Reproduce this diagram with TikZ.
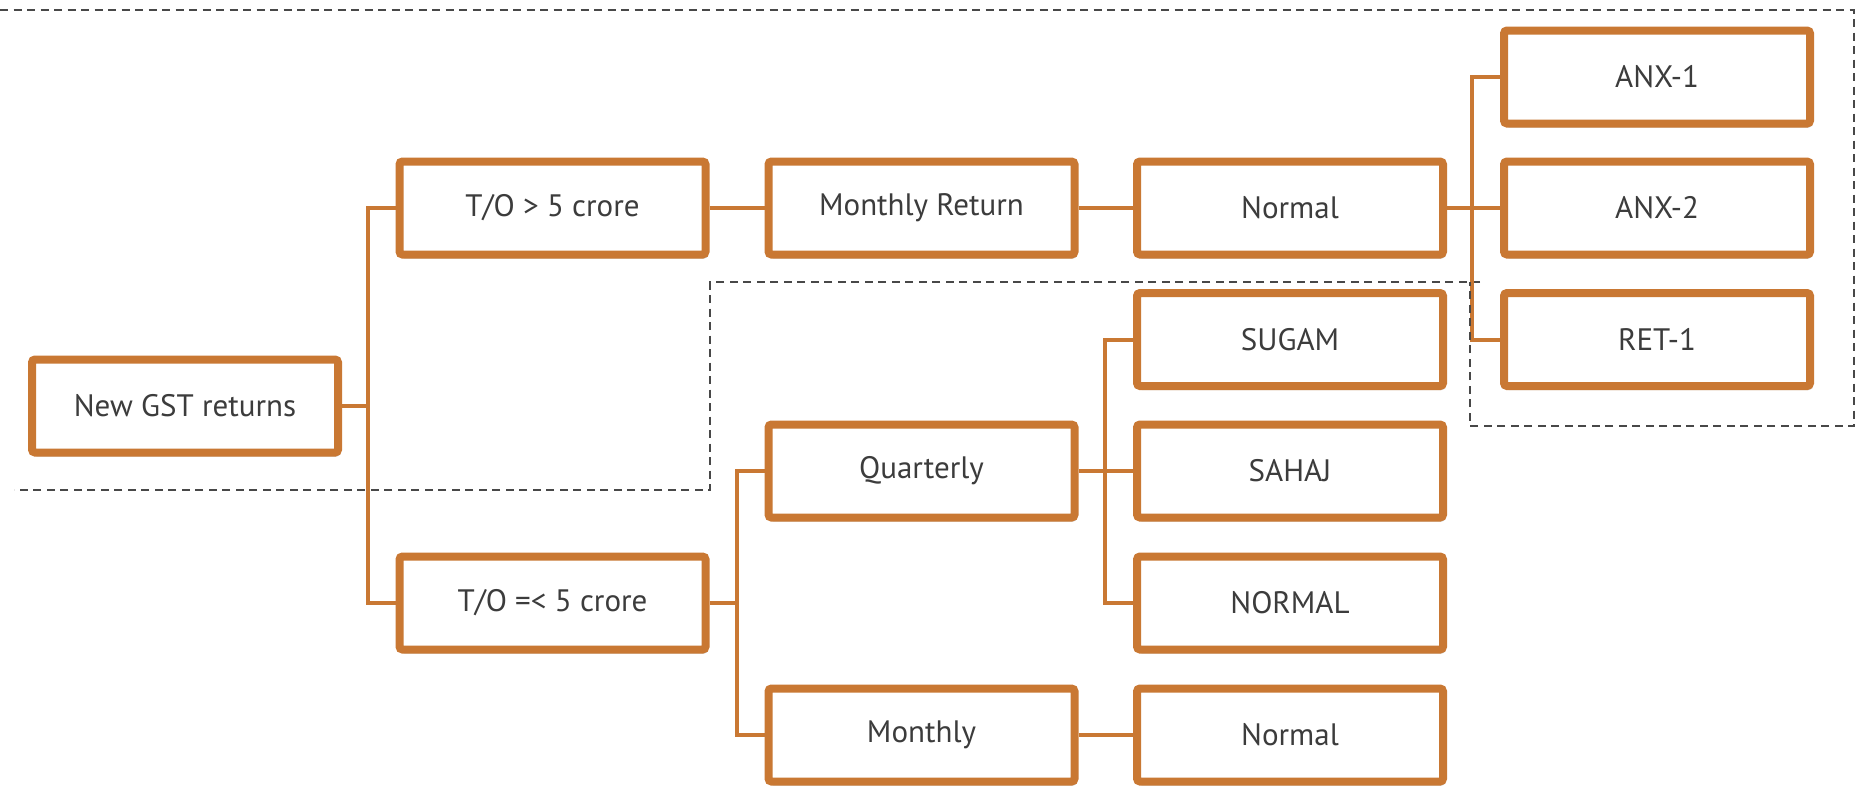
\documentclass[tikz,border=0pt]{standalone}
\usepackage{fontspec}
\setmainfont{PT Sans}
\usetikzlibrary{shadows}
\definecolor{boxedge}{RGB}{201,120,51}
\definecolor{boxtext}{RGB}{60,60,60}
\definecolor{dashgray}{RGB}{72,72,72}
\tikzset{
  stepbox/.style={draw=boxedge, line width=8pt, fill=white, rounded corners=3pt,
    minimum width=306pt, minimum height=93pt, inner sep=0pt, text=boxtext,
    font=\fontsize{31}{36}\selectfont,
    drop shadow={shadow xshift=2pt, shadow yshift=-4pt, opacity=0.18, fill=black}},
  conn/.style={draw=boxedge, line width=4pt},
  region/.style={draw=dashgray, line width=2.2pt, dash pattern=on 8pt off 5.5pt}
}
\begin{document}
\begin{tikzpicture}[x=1pt, y=-1pt]
  \useasboundingbox (0,0) rectangle (1860,788);

  % lower dashed region outline (behind the tree)
  \draw[region] (1480,282) -- (710,282) -- (710,490) -- (14,490);

  % junction columns between the levels
  \coordinate (j1) at (368,0);
  \coordinate (j2) at (737,0);
  \coordinate (j3) at (1105,0);
  \coordinate (j4) at (1472,0);

  % boxes
  \node[stepbox] (gst)   at (185,406)    {New GST returns};
  \node[stepbox] (big)   at (552.5,208)  {T/O > 5 crore};
  \node[stepbox] (small) at (552.5,603)  {T/O =< 5 crore};
  \node[stepbox] (mret)  at (921.5,208)  {Monthly Return};
  \node[stepbox] (qtr)   at (921.5,471)  {Quarterly};
  \node[stepbox] (mon)   at (921.5,735)  {Monthly};
  \node[stepbox] (norm)  at (1290,208)   {Normal};
  \node[stepbox] (sugam) at (1290,339.5) {SUGAM};
  \node[stepbox] (sahaj) at (1290,471)   {SAHAJ};
  \node[stepbox] (nrm)   at (1290,603)   {NORMAL};
  \node[stepbox] (norm2) at (1290,735)   {Normal};
  \node[stepbox] (anx1)  at (1657,77)    {ANX-1};
  \node[stepbox] (anx2)  at (1657,208)   {ANX-2};
  \node[stepbox] (ret1)  at (1657,339.5) {RET-1};

  % connectors
  \draw[conn] (gst.east) -- (gst.east -| j1);
  \draw[conn] (big.west) -| (j1 |- big.west) |- (small.west);
  \draw[conn] (big.east) -- (mret.west);
  \draw[conn] (mret.east) -- (norm.west);
  \draw[conn] (small.east) -- (small.east -| j2);
  \draw[conn] (qtr.west) -| (j2 |- qtr.west) |- (mon.west);
  \draw[conn] (mon.east) -- (norm2.west);
  \draw[conn] (qtr.east) -- (sahaj.west);
  \draw[conn] (sugam.west) -| (j3 |- sugam.west) |- (nrm.west);
  \draw[conn] (norm.east) -- (anx2.west);
  \draw[conn] (anx1.west) -| (j4 |- anx1.west) |- (ret1.west);

  % upper dashed region outline
  \draw[region] (0,10) -- (1854,10) -- (1854,426) -- (1470,426) -- (1470,282);
\end{tikzpicture}
\end{document}
